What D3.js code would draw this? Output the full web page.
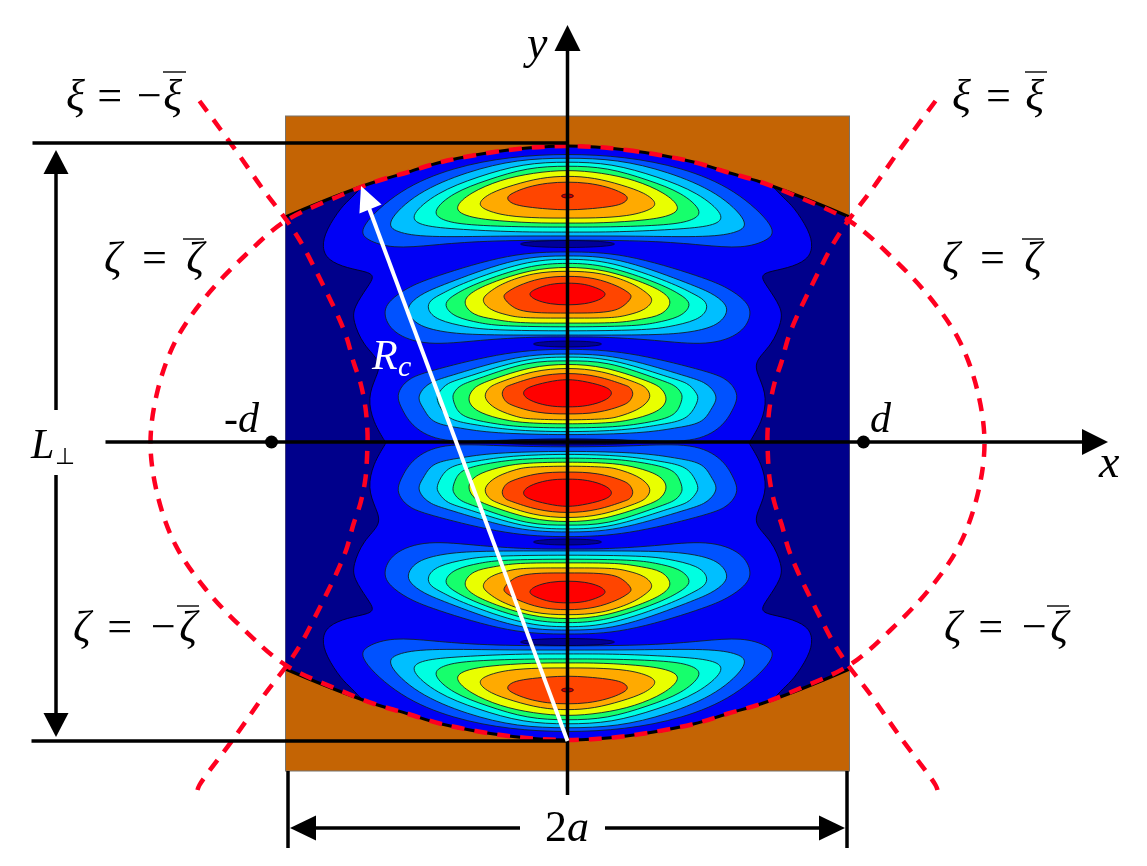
<!DOCTYPE html>
<html>
<head>
<meta charset="utf-8">
<script src="https://d3js.org/d3.v7.min.js"></script>
<style>
  body { margin: 0; background: #fff; }
  svg { display: block; filter: blur(0.35px); }
  .math { font-family: "Liberation Serif", serif; font-style: italic; fill: #000; }
</style>
</head>
<body>
<div id="plot"></div>
<script>
// frame constants
const FRAME_WIDTH = 1147;
const FRAME_HEIGHT = 866;

// half width a and half height of the cavity, in picture units
const HALF_A = 282;
const HALF_L = 297;

// colour levels, outside to inside
const LEVEL_COLORS = ["#0052ff", "#00bfff", "#00ffe1", "#16ff6c", "#e9ff00", "#ffaa00", "#ff4500", "#ff0000"];
const NAVY = "#00008b";
const BLUE = "#0000f5";

// mirror surface, right half of the top arc [x, y]
const MIRROR_ARC = [[0, 297], [59, 293], [126, 281], [159, 271], [193, 261], [226, 249], [256, 237], [282, 226]];

// dashed curves, right half, upper quarter
const ZETA_CURVE = [[0, 297], [59, 293], [126, 281], [159, 271], [193, 261], [226, 248], [282, 222], [322, 188], [362, 146], [392, 102], [410, 52], [417, 0]];
const XI_CURVE = [[368, 342], [332, 293], [304, 253], [279, 220], [265, 198], [252, 173], [241, 151], [230, 128], [221, 106], [214, 81], [207, 60], [202, 35], [200, 10], [200, 0]];
const XI_TAIL = [370, -347];

// edge of the navy zone, upper right quarter
const NAVY_EDGE = [[0, 302], [100, 298], [180, 275], [203, 259], [216, 245], [226, 236], [241, 213], [245, 196], [239, 183], [220, 175], [200, 171], [194, 166], [200, 156], [213, 136], [214, 122], [204, 98], [187, 81], [192, 65], [199, 45], [194, 21], [182, 1], [182, 0]];

// lobe contours, right half, outermost first
const LOBE_TOP = [
  [[0, 289], [57, 286], [114, 275], [167, 253], [207, 216], [200, 203], [174, 195], [134, 198], [84, 202], [0, 203]],
  [[0, 285], [50, 283], [100, 271], [150, 250], [180, 221], [170, 211], [140, 206], [67, 207], [0, 207]],
  [[0, 281], [44, 279], [90, 266], [130, 250], [156, 228], [147, 218], [114, 214], [50, 211], [0, 211]],
  [[0, 277], [40, 275], [80, 263], [114, 250], [134, 232], [125, 223], [100, 218], [40, 216], [0, 216]],
  [[0, 273], [34, 270], [67, 263], [97, 250], [112, 236], [104, 228], [80, 223], [34, 220], [0, 220]],
  [[0, 267], [27, 265], [54, 258], [77, 250], [89, 240], [82, 233], [60, 227], [27, 225], [0, 225]],
  [[0, 261], [20, 260], [40, 256], [55, 250], [61, 245], [55, 239], [40, 236], [20, 234], [0, 233]]
];
const LOBE_MID = [
  [[0, 191], [57, 189], [134, 166], [160, 155], [177, 143], [184, 130], [174, 110], [140, 98], [87, 103], [34, 106], [0, 106]],
  [[0, 187], [50, 185], [117, 161], [144, 150], [157, 140], [160, 131], [150, 118], [124, 111], [87, 108], [0, 108]],
  [[0, 184], [44, 181], [104, 160], [124, 150], [137, 143], [140, 134], [130, 123], [100, 116], [74, 113], [0, 112]],
  [[0, 180], [40, 177], [90, 160], [110, 150], [120, 143], [122, 136], [112, 126], [87, 120], [64, 117], [0, 116]],
  [[0, 176], [37, 173], [77, 160], [97, 150], [104, 140], [94, 128], [74, 124], [50, 120], [0, 120]],
  [[0, 172], [34, 170], [64, 160], [78, 151], [86, 143], [77, 133], [60, 128], [44, 125], [0, 125]],
  [[0, 167], [27, 165], [50, 157], [60, 151], [65, 146], [55, 136], [45, 132], [27, 130], [0, 130]],
  [[0, 160], [17, 159], [32, 154], [39, 149], [32, 143], [17, 139], [0, 138]]
];
const LOBE_LOW = [
  [[0, 94], [60, 91], [134, 73], [157, 65], [167, 55], [170, 45], [165, 33], [154, 16], [125, 1], [67, 3], [0, 4]],
  [[0, 89], [50, 87], [114, 68], [137, 61], [147, 51], [149, 43], [143, 33], [134, 20], [107, 15], [74, 10], [0, 8]],
  [[0, 86], [44, 84], [100, 66], [120, 60], [128, 51], [131, 45], [127, 35], [117, 23], [90, 18], [57, 13], [0, 11]],
  [[0, 82], [40, 81], [87, 65], [107, 58], [113, 51], [115, 46], [112, 36], [104, 26], [77, 20], [47, 16], [0, 15]],
  [[0, 79], [37, 76], [77, 63], [93, 56], [99, 46], [97, 38], [87, 30], [63, 23], [40, 20], [0, 19]],
  [[0, 75], [34, 72], [67, 61], [78, 56], [83, 48], [80, 41], [70, 33], [50, 26], [37, 24], [0, 23]],
  [[0, 70], [30, 67], [57, 58], [62, 56], [66, 50], [63, 43], [57, 38], [30, 30], [0, 29]],
  [[0, 64], [20, 61], [39, 56], [45, 50], [39, 43], [20, 37], [0, 36]]
];

// small dark blobs between lobes [y, half width, half height]
const BLOBS = [[199, 47, 3.5], [99, 34, 3], [-99, 34, 3], [-199, 47, 3.5]];
const AXIS_BLOB = [1, 70, 3];
// dark red spot in the top and bottom lobes
const RED_SPOTS = [[247, 6, 2], [-247, 6, 2]];

// focus points on the x axis
const FOCI = [-296, 296];

// text labels
const LABEL_TEXT = ["ξ = −ξ", "ξ = ξ", "ζ = ζ", "ζ = ζ", "ζ = −ζ", "ζ = −ζ"];
const LABEL_X = [66, 952, 104, 942, 73, 944];
const LABEL_WIDTH = [116, 92, 100, 100, 124, 124];
const LABEL_BASE = [110, 110, 272, 272, 641, 641];
const BAR_X = [[163, 186], [1025, 1047], [183, 204], [1022, 1043], [177, 199], [1047, 1069]];
const BAR_Y = [72, 72, 239, 239, 606, 606];

// scales
const X_SCALE = d3.scaleLinear().domain([-HALF_A, HALF_A]).range([285.5, 849.5]);
const Y_SCALE = d3.scaleLinear().domain([-HALF_L, HALF_L]).range([740, 146]);

const FRAME = d3.select("#plot")
  .append("svg")
  .attr("width", FRAME_WIDTH)
  .attr("height", FRAME_HEIGHT);

const LINE = d3.line().x((d) => X_SCALE(d[0])).y((d) => Y_SCALE(d[1]));
const flipX = (pts) => pts.map((d) => [-d[0], d[1]]);
const flipY = (pts) => pts.map((d) => [d[0], -d[1]]);

function sharpen(pts) {
  const n = pts.length;
  return pts.map((p, i) => {
    const a = pts[(i + n - 1) % n], b = pts[(i + 1) % n];
    return [p[0] + (2 * p[0] - a[0] - b[0]) / 14, p[1] + (2 * p[1] - a[1] - b[1]) / 14];
  });
}

// closed outline from a right half contour
function closedLobe(pts) {
  const left = flipX(pts).slice(1, -1).reverse();
  return LINE.curve(d3.curveBasisClosed)(sharpen(pts.concat(left)));
}

// mirror shape used as a clip and as the navy fill
const arcRight = MIRROR_ARC;
const arcFull = flipX(arcRight).slice(1).reverse().concat(arcRight);
const topArcPath = LINE.curve(d3.curveCatmullRom.alpha(0.5))(arcFull);
const botArcPath = LINE.curve(d3.curveCatmullRom.alpha(0.5))(flipY(arcFull).reverse());
const cavityPath = topArcPath + "L" + botArcPath.slice(1) + "Z";

// arrow head helper
function arrowHead(g, tip, back, half, color) {
  const dx = tip[0] - back[0], dy = tip[1] - back[1];
  const len = Math.hypot(dx, dy);
  const nx = -dy / len * half, ny = dx / len * half;
  g.append("path")
    .attr("d", d3.line()([tip, [back[0] + nx, back[1] + ny], [back[0] - nx, back[1] - ny]]) + "Z")
    .attr("fill", color);
}

// brown plate
FRAME.append("rect")
  .attr("x", X_SCALE(-HALF_A))
  .attr("y", 116)
  .attr("width", X_SCALE(HALF_A) - X_SCALE(-HALF_A))
  .attr("height", 655)
  .attr("fill", "#c46404")
  .attr("stroke", "#77736c")
  .attr("stroke-width", 1);

FRAME.append("clipPath").attr("id", "cavity").append("path").attr("d", cavityPath);
FRAME.append("path").attr("d", cavityPath).attr("fill", NAVY);

const FIELD = FRAME.append("g").attr("clip-path", "url(#cavity)");

// blue zone bounded by the navy edge
const edgeRight = NAVY_EDGE.concat(flipY(NAVY_EDGE).slice(0, -1).reverse());
FIELD.append("path")
  .attr("d", closedLobe(edgeRight))
  .attr("fill", BLUE)
  .attr("stroke", "#000022")
  .attr("stroke-width", 0.9);

// lobes, mirrored for the lower half
const LOBES = [LOBE_TOP, LOBE_MID, LOBE_LOW];
LOBES.forEach((lobe) => {
  [lobe, lobe.map(flipY)].forEach((half) => {
    FIELD.selectAll(null)
      .data(half)
      .enter()
      .append("path")
      .attr("d", (d) => closedLobe(d))
      .attr("fill", (d, i) => LEVEL_COLORS[i])
      .attr("stroke", "#10202a")
      .attr("stroke-width", 0.9);
  });
});

// blobs and spots
function ellipses(data, color) {
  FIELD.selectAll(null)
    .data(data)
    .enter()
    .append("ellipse")
    .attr("cx", X_SCALE(0))
    .attr("cy", (d) => Y_SCALE(d[0]))
    .attr("rx", (d) => d[1])
    .attr("ry", (d) => d[2])
    .attr("fill", color)
    .attr("stroke", "#000022")
    .attr("stroke-width", 0.7);
}
ellipses(BLOBS.concat([AXIS_BLOB]), "#000099");
ellipses(RED_SPOTS, "#c80000");

// mirror edges
[topArcPath, botArcPath].forEach((d) => {
  FRAME.append("path").attr("d", d).attr("fill", "none").attr("stroke", "#000").attr("stroke-width", 3);
});

// dashed zeta and xi curves
const DASH = { "stroke": "#ff0020", "stroke-width": 4.5, "stroke-dasharray": "13 10", "fill": "none" };
const zetaRight = ZETA_CURVE.concat(flipY(ZETA_CURVE).slice(0, -1).reverse());
const zetaClosed = zetaRight.concat(flipX(zetaRight).slice(1, -1).reverse());
const xiRight = XI_CURVE.concat(flipY(XI_CURVE).slice(0, -2).reverse());
xiRight.push(XI_TAIL);
const dashed = [
  LINE.curve(d3.curveCatmullRomClosed.alpha(0.5))(zetaClosed),
  LINE.curve(d3.curveCatmullRom.alpha(0.5))(xiRight),
  LINE.curve(d3.curveCatmullRom.alpha(0.5))(flipX(xiRight))
];
dashed.forEach((d, i) => {
  const p = FRAME.append("path").attr("d", d);
  Object.keys(DASH).forEach((k) => p.attr(k, DASH[k]));
  // fit the gaps so the xi curves start and end on a dash
  if (i > 0) {
    const len = p.node().getTotalLength();
    const n = Math.round((len + 10) / 23);
    p.attr("stroke-dasharray", "13 " + (len - 13 * n) / (n - 1));
  }
});

// black lines and axes
const LINES = [
  [[-535, 300], [0, 300]],
  [[-536, -298], [0, -298]],
  [[-462, 1], [522, 1]],
  [[0, -352], [0, 393]]
];
FRAME.selectAll(null)
  .data(LINES)
  .enter()
  .append("line")
  .attr("x1", (d) => X_SCALE(d[0][0]))
  .attr("y1", (d) => Y_SCALE(d[0][1]))
  .attr("x2", (d) => X_SCALE(d[1][0]))
  .attr("y2", (d) => Y_SCALE(d[1][1]))
  .attr("stroke", "#000")
  .attr("stroke-width", 3.5);

const ARROWS = FRAME.append("g");
arrowHead(ARROWS, [X_SCALE(0), 25], [X_SCALE(0), 51], 13, "#000");
arrowHead(ARROWS, [1108, Y_SCALE(1)], [1082, Y_SCALE(1)], 13, "#000");

// L dimension arrow
[[173, 410], [475, 713]].forEach((d) => {
  FRAME.append("line").attr("x1", 56).attr("x2", 56).attr("y1", d[0]).attr("y2", d[1])
    .attr("stroke", "#000").attr("stroke-width", 3.5);
});
arrowHead(ARROWS, [56, 150], [56, 174], 12.5, "#000");
arrowHead(ARROWS, [56, 737], [56, 713], 12.5, "#000");

// 2a dimension arrow
[288, 847].forEach((x) => {
  FRAME.append("line").attr("x1", x).attr("x2", x).attr("y1", 771).attr("y2", 848)
    .attr("stroke", "#000").attr("stroke-width", 3.5);
});
[[315, 520], [605, 820]].forEach((d) => {
  FRAME.append("line").attr("x1", d[0]).attr("x2", d[1]).attr("y1", 828).attr("y2", 828)
    .attr("stroke", "#000").attr("stroke-width", 3.5);
});
arrowHead(ARROWS, [290, 828], [316, 828], 12.5, "#000");
arrowHead(ARROWS, [845, 828], [819, 828], 12.5, "#000");

// focus points
FRAME.selectAll(null)
  .data(FOCI)
  .enter()
  .append("circle")
  .attr("cx", (d) => X_SCALE(d))
  .attr("cy", Y_SCALE(1))
  .attr("r", 6.5)
  .attr("fill", "#000");

// white radius arrow
FRAME.append("line")
  .attr("x1", X_SCALE(0)).attr("y1", Y_SCALE(-298))
  .attr("x2", 369).attr("y2", 208)
  .attr("stroke", "#fff").attr("stroke-width", 4);
arrowHead(ARROWS, [361, 186], [370.5, 209], 12, "#fff");

// labels with over bars
FRAME.selectAll(null)
  .data(LABEL_TEXT)
  .enter()
  .append("text")
  .attr("class", "math")
  .attr("x", (d, i) => LABEL_X[i])
  .attr("y", (d, i) => LABEL_BASE[i])
  .attr("font-size", 44)
  .attr("textLength", (d, i) => LABEL_WIDTH[i])
  .attr("lengthAdjust", "spacing")
  .text((d) => d);

FRAME.selectAll(null)
  .data(BAR_X)
  .enter()
  .append("line")
  .attr("x1", (d) => d[0])
  .attr("x2", (d) => d[1])
  .attr("y1", (d, i) => BAR_Y[i])
  .attr("y2", (d, i) => BAR_Y[i])
  .attr("stroke", "#222")
  .attr("stroke-width", 1.6);

function addText(str, x, y, size, color) {
  return FRAME.append("text")
    .attr("class", "math")
    .attr("x", x)
    .attr("y", y)
    .attr("font-size", size)
    .style("fill", color || "#000")
    .text(str);
}
addText("y", 527, 58, 46);
addText("x", 1099, 477, 46);
addText("d", 870, 432, 42);
addText("-d", 224, 432, 42);
addText("2a", 545, 841, 44).style("font-style", "normal").html('2<tspan font-style="italic">a</tspan>');
addText("L", 31, 458, 42);
FRAME.append("text").attr("x", 55).attr("y", 464)
  .attr("font-family", "DejaVu Sans").attr("font-size", 23).text("⊥");
addText("R", 372, 369, 42, "#fff");
addText("c", 398, 376, 30, "#fff");
</script>
</body>
</html>
